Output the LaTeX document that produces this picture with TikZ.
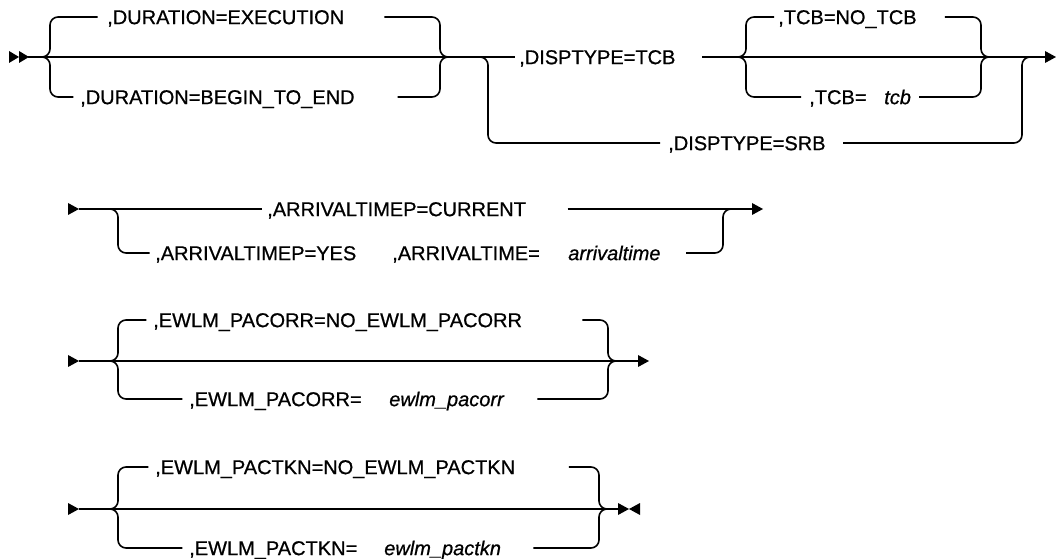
\documentclass[tikz,border=0pt]{standalone}
\usepackage{fontspec}
\setmainfont{Liberation Sans}
\newfontfamily\railfont{Liberation Sans}[FakeBold=0.7]

\begin{document}
\begin{tikzpicture}[
    x=0.75pt, y=-0.75pt,
    rail/.style={line width=1.2pt, rounded corners=6pt},
    kw/.style={anchor=west, inner sep=0pt, text height=10.7pt, text depth=0pt,
        font=\railfont\fontsize{15}{18}\selectfont},
    var/.style={kw, font=\railfont\fontsize{15}{18}\selectfont\itshape},
]
\useasboundingbox (0,0) rectangle (1056,559);

% Row 1: DURATION, DISPTYPE, TCB
\fill (9,51) -- (19,57) -- (9,63) -- cycle;
\fill (19,51) -- (29,57) -- (19,63) -- cycle;
\coordinate (start1) at (28,57);
\coordinate (durin) at (41,57);
\coordinate (durout) at (449,57);
\coordinate (srbin) at (478,57);
\coordinate (tcbin) at (738,57);
\coordinate (tcbout) at (990,57);
\coordinate (srbout) at (1031,57);
\coordinate (end1) at (1045,57);

\node[kw] (dur1) at (107,17) {,DURATION=EXECUTION};
\node[kw] (dur2) at (80,97) {,DURATION=BEGIN\_TO\_END};
\node[kw] (disp1) at (519,57) {,DISPTYPE=TCB};
\node[kw] (tcb1) at (778,17) {,TCB=NO\_TCB};
\node[kw] (tcb2) at (809,97) {,TCB=};
\node[var] (tcbv) at (884,97) {tcb};
\node[kw] (disp2) at (668,143) {,DISPTYPE=SRB};

\draw[rail] (start1) -- ([xshift=-3pt]disp1.west);
\draw[rail] ([xshift=20pt]disp1.east) -- (end1);
\fill (1045,51) -- (1056,57) -- (1045,63) -- cycle;
\draw[rail] (durin) -| (50,17) -- ([xshift=-7pt]dur1.west);
\draw[rail] (durin) -| (50,97) -- ([xshift=-5pt]dur2.west);
\draw[rail] ([xshift=30pt]dur1.east) -| (440,57) -- (durout);
\draw[rail] ([xshift=32pt]dur2.east) -| (440,57) -- (durout);
\draw[rail] (srbin) -| (488,143) -- ([xshift=-6pt]disp2.west);
\draw[rail] ([xshift=13pt]disp2.east) -| (1022,57) -- (srbout);
\draw[rail] (tcbin) -| (746,17) -- ([xshift=-3pt]tcb1.west);
\draw[rail] (tcbin) -| (746,97) -- ([xshift=-6pt]tcb2.west);
\draw[rail] ([xshift=21pt]tcb1.east) -| (981,57) -- (tcbout);
\draw[rail] ([xshift=6pt]tcbv.east) -| (981,57) -- (tcbout);

% Row 2: ARRIVALTIMEP
\fill (68,203) -- (79,209) -- (68,215) -- cycle;
\coordinate (start2) at (79,209);
\coordinate (arrin) at (108,209);
\coordinate (arrout) at (732,209);
\coordinate (end2) at (752,209);

\node[kw] (arr1) at (267,209) {,ARRIVALTIMEP=CURRENT};
\node[kw] (arr2) at (155,253) {,ARRIVALTIMEP=YES};
\node[kw] (arr3) at (392,253) {,ARRIVALTIME=};
\node[var] (arrv) at (568,253) {arrivaltime};

\draw[rail] (start2) -- ([xshift=-4pt]arr1.west);
\draw[rail] ([xshift=31pt]arr1.east) -- (end2);
\fill (752,203) -- (763,209) -- (752,215) -- cycle;
\draw[rail] (arrin) -| (118,253) -- ([xshift=-4pt]arr2.west);
\draw[rail] ([xshift=19pt]arrv.east) -| (723,209) -- (arrout);

% Row 3: EWLM_PACORR
\fill (68,355) -- (79,361) -- (68,367) -- cycle;
\coordinate (start3) at (79,361);
\coordinate (corin) at (109,361);
\coordinate (corout) at (617,361);
\coordinate (end3) at (638,361);

\node[kw] (cor1) at (153,320) {,EWLM\_PACORR=NO\_EWLM\_PACORR};
\node[kw] (cor2) at (189,399) {,EWLM\_PACORR=};
\node[var] (corv) at (389,399) {ewlm\_pacorr};

\draw[rail] (start3) -- (end3);
\fill (638,355) -- (649,361) -- (638,367) -- cycle;
\draw[rail] (corin) -| (118,320) -- ([xshift=-5pt]cor1.west);
\draw[rail] (corin) -| (118,399) -- ([xshift=-5pt]cor2.west);
\draw[rail] ([xshift=45pt]cor1.east) -| (608,361) -- (corout);
\draw[rail] ([xshift=25pt]corv.east) -| (608,361) -- (corout);

% Row 4: EWLM_PACTKN
\fill (68,503) -- (79,509) -- (68,515) -- cycle;
\coordinate (start4) at (79,509);
\coordinate (tknin) at (109,509);
\coordinate (tknout) at (608,509);
\coordinate (end4) at (618,509);

\node[kw] (tkn1) at (155,467) {,EWLM\_PACTKN=NO\_EWLM\_PACTKN};
\node[kw] (tkn2) at (189,548) {,EWLM\_PACTKN=};
\node[var] (tknv) at (384,548) {ewlm\_pactkn};

\draw[rail] (start4) -- (end4);
\fill (618,503) -- (629,509) -- (618,515) -- cycle;
\fill (640,503) -- (629,509) -- (640,515) -- cycle;
\draw[rail] (tknin) -| (118,467) -- ([xshift=-5pt]tkn1.west);
\draw[rail] (tknin) -| (118,548) -- ([xshift=-5pt]tkn2.west);
\draw[rail] ([xshift=40pt]tkn1.east) -| (599,509) -- (tknout);
\draw[rail] ([xshift=24pt]tknv.east) -| (599,509) -- (tknout);

\end{tikzpicture}
\end{document}
